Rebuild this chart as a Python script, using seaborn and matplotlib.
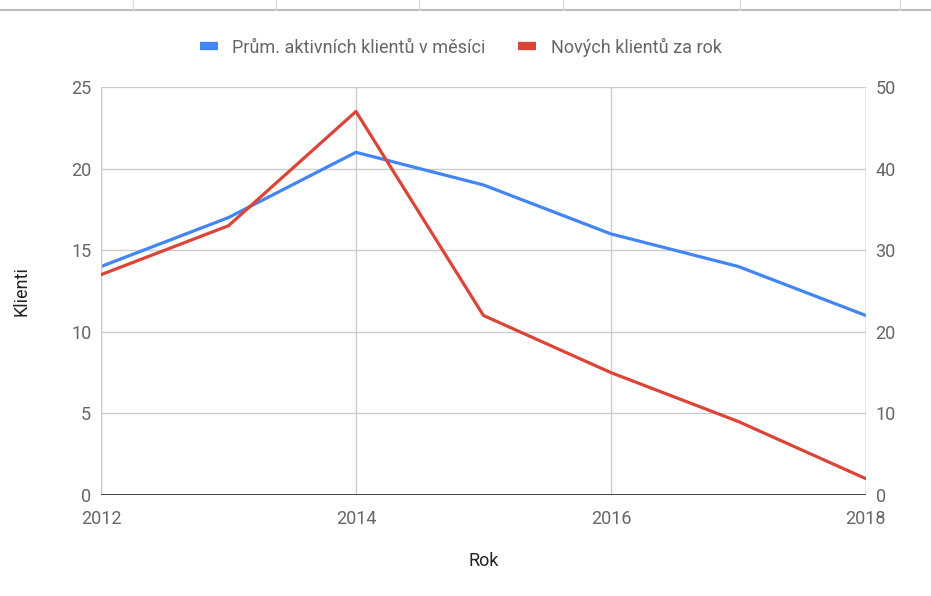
import matplotlib
matplotlib.use("Agg")
import matplotlib.pyplot as plt
from matplotlib.lines import Line2D
import seaborn as sns
import pandas as pd

roky = [2012, 2013, 2014, 2015, 2016, 2017, 2018]
aktivni = [14, 17, 21, 19, 16, 14, 11]
novi = [27, 33, 47, 22, 15, 9, 2]

df = pd.DataFrame({"Rok": roky, "aktivni": aktivni, "novi": novi})

sns.set_theme(style="white")
plt.rcParams["font.family"] = ["Roboto", "DejaVu Sans"]

modra = "#4285F4"
cervena = "#DB4437"
seda = "#666666"

fig = plt.figure(figsize=(9.31, 5.96), dpi=100)
ax = fig.add_axes([0.1085, 0.1695, 0.8215, 0.6845])
ax2 = ax.twinx()

sns.lineplot(data=df, x="Rok", y="aktivni", ax=ax, color=modra, linewidth=2.3)
sns.lineplot(data=df, x="Rok", y="novi", ax=ax2, color=cervena, linewidth=2.3)

ax.set_xlim(2012, 2018)
ax.set_ylim(0, 25)
ax2.set_ylim(0, 50)
ax.set_xticks([2012, 2014, 2016, 2018])
ax.set_yticks(range(0, 26, 5))
ax2.set_yticks(range(0, 51, 10))

ax.grid(True, color="#cccccc", linewidth=1)
ax.set_axisbelow(True)
for s in ["top", "right", "left", "bottom"]:
    ax.spines[s].set_visible(False)
    ax2.spines[s].set_visible(False)
ax.axhline(0, color="#333333", linewidth=2, zorder=5)
ax.axvline(2012, color="#cccccc", linewidth=1)
ax.axvline(2018, color="#cccccc", linewidth=1)

ax.tick_params(axis="y", length=0, labelsize=13, labelcolor=seda, pad=7)
ax2.tick_params(axis="y", length=0, labelsize=13, labelcolor=seda, pad=7)
ax.tick_params(axis="x", length=0, labelsize=13, labelcolor=seda, pad=11)

ax.set_xlabel("Rok", fontsize=13, color="#222222", labelpad=17)
ax.set_ylabel("Klienti", fontsize=13, color="#222222", labelpad=29)
ax2.set_ylabel("")

handles = [Line2D([0], [0], color=modra, linewidth=6, solid_capstyle="butt"),
           Line2D([0], [0], color=cervena, linewidth=6, solid_capstyle="butt")]
fig.legend(handles, ["Prům. aktivních klientů v měsíci", "Nových klientů za rok"],
           loc="center", bbox_to_anchor=(0.495, 0.921), ncol=2, frameon=False,
           fontsize=13, labelcolor=seda, handlelength=1.0, handletextpad=0.8,
           columnspacing=1.8)

# okraj tabulky nahoře
fig.add_artist(Line2D([0, 1], [0.983, 0.983], color="#bbbbbb", linewidth=1.5, transform=fig.transFigure))
for xx in [133, 276, 419, 563, 740, 900]:
    fig.add_artist(Line2D([xx / 931, xx / 931], [0.983, 1.0], color="#dddddd", linewidth=1, transform=fig.transFigure))

fig.savefig("out.png", dpi=100)
